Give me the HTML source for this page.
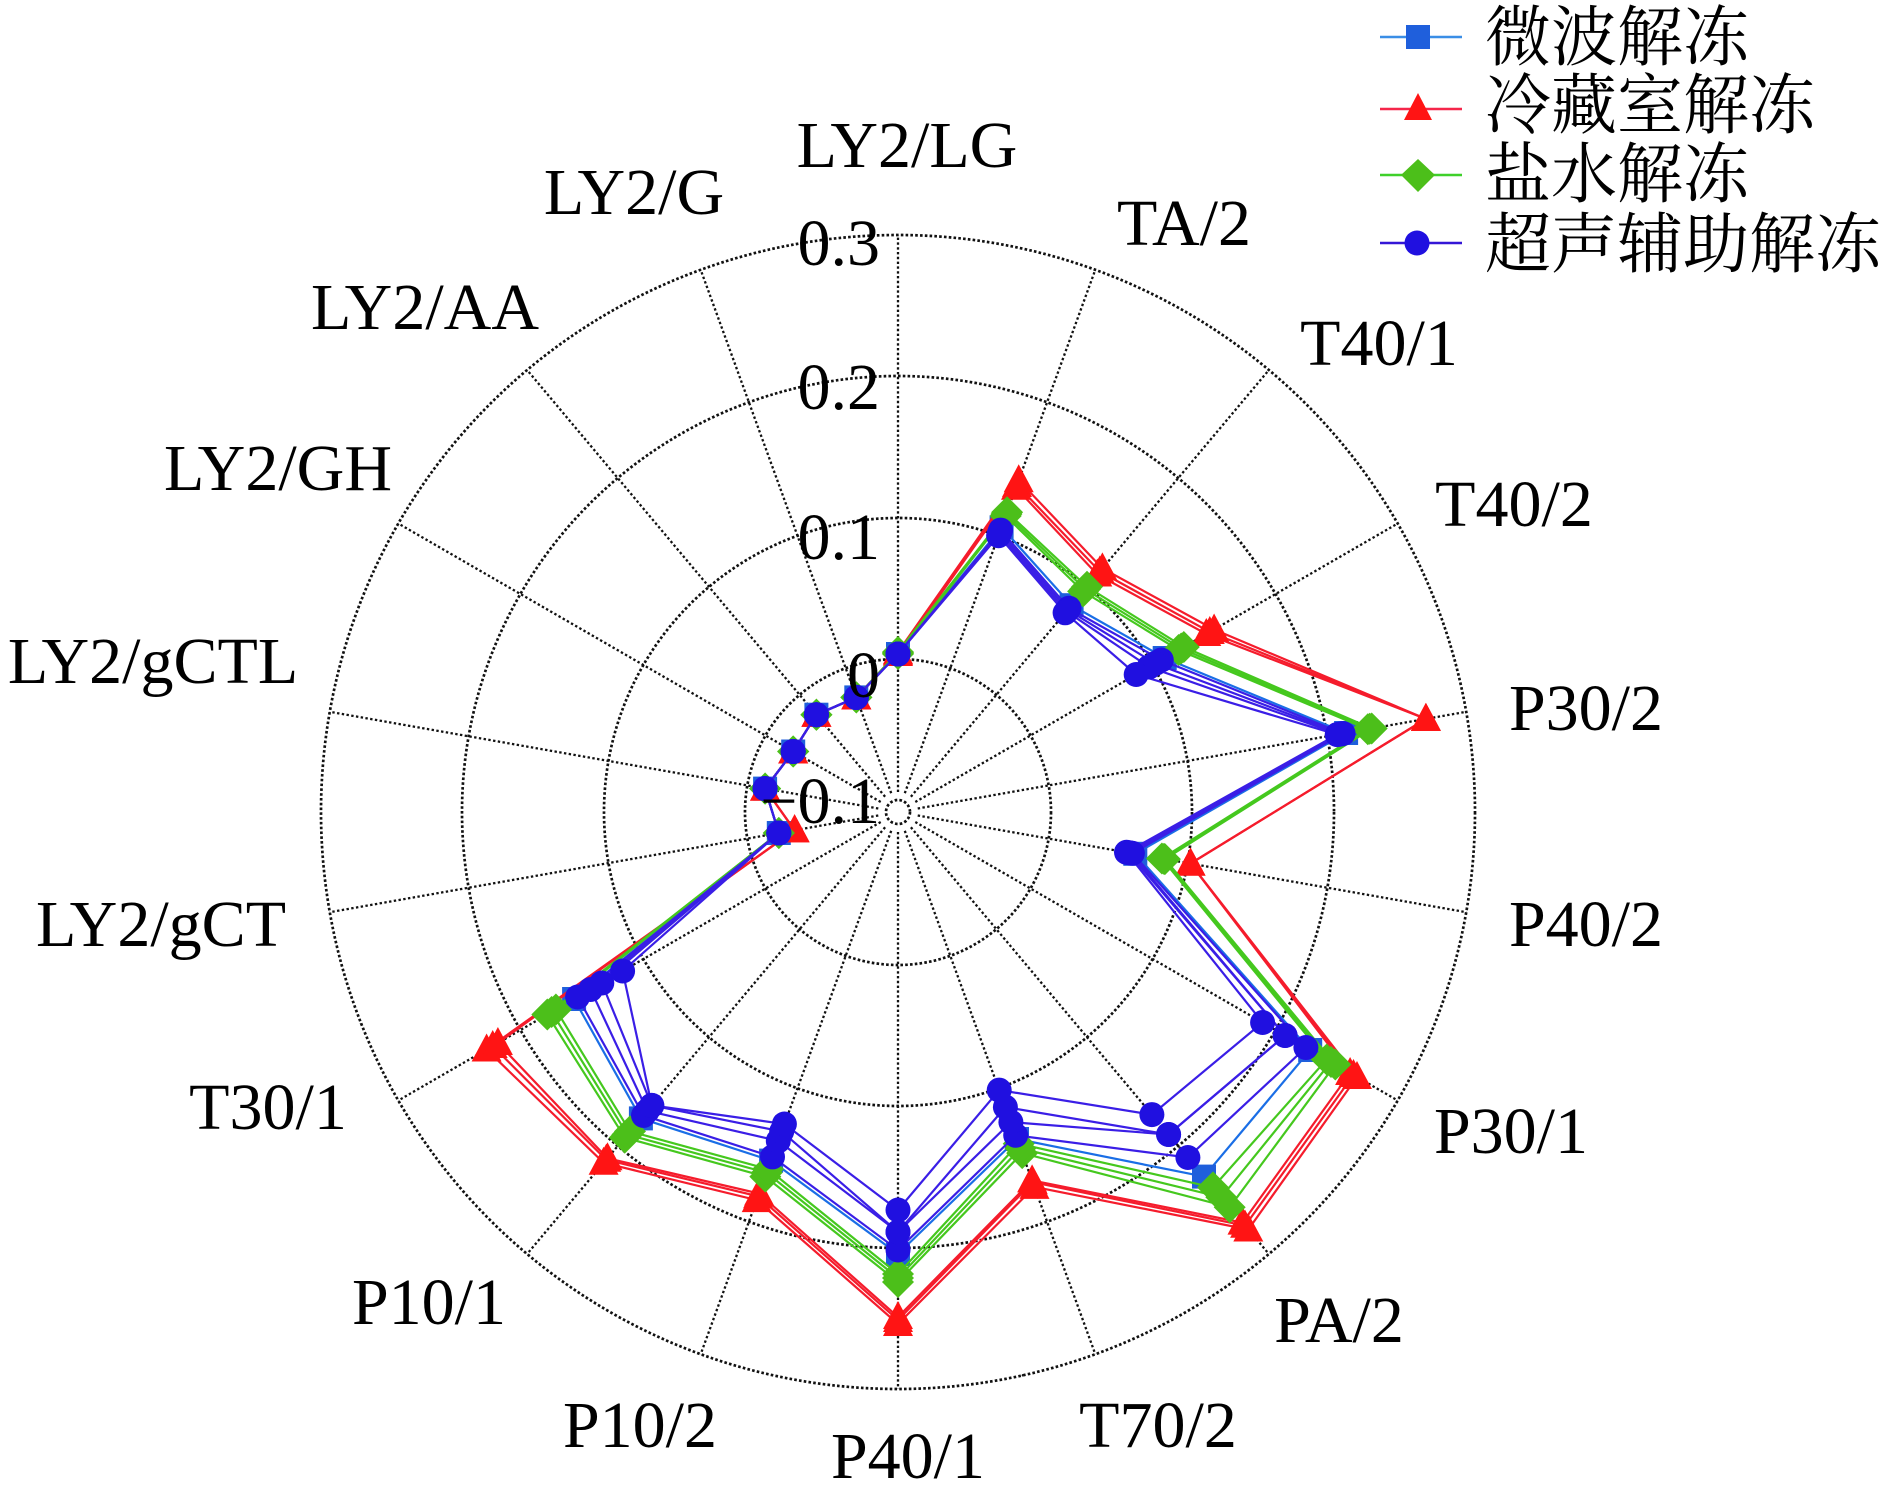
<!DOCTYPE html>
<html>
<head>
<meta charset="utf-8">
<style>
  html,body{margin:0;padding:0;background:#fff;}
  #wrap{position:relative;width:1890px;height:1499px;overflow:hidden;background:#fff;}
  #plot,#txt{position:absolute;left:0;top:0;}
  .cat{font-family:"Liberation Serif","Noto Serif CJK SC",serif;font-size:66px;fill:#000;text-anchor:middle;}
  .tick{font-family:"Liberation Serif","Noto Serif CJK SC",serif;font-size:66px;fill:#000;text-anchor:end;}
  .leg{font-family:"Liberation Serif","Noto Serif CJK SC","Noto Sans CJK SC",serif;font-size:66px;fill:#000;}
</style>
</head>
<body>
<div id="wrap">
  <div id="plot"></div>
  <svg id="txt" width="1890" height="1499" viewBox="0 0 1890 1499">
    <!-- category labels -->
    <text class="cat" x="907" y="167">LY2/LG</text>
    <text class="cat" x="1184" y="245">TA/2</text>
    <text class="cat" x="1379" y="365">T40/1</text>
    <text class="cat" x="1514" y="526">T40/2</text>
    <text class="cat" x="1586" y="730">P30/2</text>
    <text class="cat" x="1586" y="946">P40/2</text>
    <text class="cat" x="1511" y="1153">P30/1</text>
    <text class="cat" x="1339" y="1342">PA/2</text>
    <text class="cat" x="1158" y="1447">T70/2</text>
    <text class="cat" x="908" y="1478">P40/1</text>
    <text class="cat" x="640" y="1447">P10/2</text>
    <text class="cat" x="429" y="1324">P10/1</text>
    <text class="cat" x="268" y="1129">T30/1</text>
    <text class="cat" x="161" y="946">LY2/gCT</text>
    <text class="cat" x="153" y="683">LY2/gCTL</text>
    <text class="cat" x="278" y="490">LY2/GH</text>
    <text class="cat" x="425" y="329">LY2/AA</text>
    <text class="cat" x="634" y="214">LY2/G</text>
    <!-- radial tick labels -->
    <text class="tick" x="880" y="265">0.3</text>
    <text class="tick" x="880" y="409">0.2</text>
    <text class="tick" x="880" y="559">0.1</text>
    <text class="tick" x="880" y="697">0</text>
    <text class="tick" x="880" y="823">&#8722;0.1</text>
    <!-- legend -->
    <line x1="1380" y1="37" x2="1462" y2="37" stroke="#3a8ee6" stroke-width="2.5"/>
    <rect x="1406" y="25" width="24" height="24" fill="#1f5fdc"/>
    <text class="leg" x="1485" y="60">微波解冻</text>

    <line x1="1380" y1="109" x2="1462" y2="109" stroke="#f5264a" stroke-width="2.5"/>
    <polygon points="1418,93 1432,120 1404,120" fill="#ff1414"/>
    <text class="leg" x="1485" y="128">冷藏室解冻</text>

    <line x1="1380" y1="175" x2="1462" y2="175" stroke="#3fd02a" stroke-width="2.5"/>
    <polygon points="1418,159 1435,175 1418,192 1401,175" fill="#4cbf1a"/>
    <text class="leg" x="1485" y="197">盐水解冻</text>

    <line x1="1380" y1="243" x2="1462" y2="243" stroke="#3416d6" stroke-width="2.5"/>
    <circle cx="1417" cy="243" r="12.5" fill="#2010e0"/>
    <text class="leg" x="1485" y="267">超声辅助解冻</text>
  </svg>
</div>
<script>
(function(){
  var cx=898, cy=812;
  function P(i,r){var a=i*Math.PI/9;return [cx+r*Math.sin(a), cy-r*Math.cos(a)];}
  var s='<svg width="1890" height="1499" viewBox="0 0 1890 1499">';
  var rings=[12,153,294,436,577];
  var gs='stroke="#111" stroke-width="2.7" stroke-dasharray="2.6 2.2" fill="none"';
  rings.forEach(function(r){ s+='<circle cx="'+cx+'" cy="'+cy+'" r="'+r+'" '+gs+'/>'; });
  for(var i=0;i<18;i++){
    var a=P(i,20), b=P(i,577);
    s+='<line x1="'+a[0].toFixed(1)+'" y1="'+a[1].toFixed(1)+'" x2="'+b[0].toFixed(1)+'" y2="'+b[1].toFixed(1)+'" stroke="#111" stroke-width="2.3" stroke-dasharray="2.4 2.4"/>';
  }
  var tail=[121,135,121,127,122];
  var B1=[158,300,266,304,452,238,471,451,344,438,367,396,370].concat(tail);
  var B2=[158,298,264,297,450,236,447,421,330,420,350,390,355].concat(tail);
  var B3=[158,296,262,290,448,234,447,421,314,420,340,383,342].concat(tail);
  var B4=[158,294,260,275,446,232,421,395,296,398,332,383,318].concat(tail);
  var S1=[158,303,270,308,455,241,476,476,348,442,371,400,374].concat(tail);
  var R1=[160,353,318,365,536,297,530,545,399,512,413,458,475,105,135,121,127,122];
  var R2=[159,348,314,360,536,297,526,540,394,508,409,454,468,105,135,121,127,122];
  var R3=[158,345,310,356,536,297,522,536,392,505,406,452,462,105,135,121,127,122];
  var G1=[160,319,294,330,481,271,505,516,363,470,388,425,405].concat(tail);
  var G2=[159,317,291,327,479,270,500,503,358,466,384,421,400].concat(tail);
  var G3=[158,315,288,324,477,268,495,490,353,462,380,417,395].concat(tail);

  function poly(arr,col){
    var pts=arr.map(function(r,i){var p=P(i,r);return p[0].toFixed(1)+','+p[1].toFixed(1);}).join(' ');
    return '<polygon points="'+pts+'" fill="none" stroke="'+col+'" stroke-width="2.2" stroke-linejoin="miter"/>';
  }
  function markers(arr,type,col){
    var o='';
    arr.forEach(function(r,i){
      var p=P(i,r),x=p[0],y=p[1];
      if(type==='c') o+='<circle cx="'+x.toFixed(1)+'" cy="'+y.toFixed(1)+'" r="12.5" fill="'+col+'"/>';
      else if(type==='t') o+='<polygon points="'+x.toFixed(1)+','+(y-16).toFixed(1)+' '+(x+15).toFixed(1)+','+(y+12).toFixed(1)+' '+(x-15).toFixed(1)+','+(y+12).toFixed(1)+'" fill="'+col+'"/>';
      else if(type==='d') o+='<polygon points="'+x.toFixed(1)+','+(y-16).toFixed(1)+' '+(x+16).toFixed(1)+','+y.toFixed(1)+' '+x.toFixed(1)+','+(y+16).toFixed(1)+' '+(x-16).toFixed(1)+','+y.toFixed(1)+'" fill="'+col+'"/>';
      else if(type==='s') o+='<rect x="'+(x-12).toFixed(1)+'" y="'+(y-12).toFixed(1)+'" width="24" height="24" fill="'+col+'"/>';
    });
    return o;
  }
  s+=poly(S1,'#1a6ee6')+markers(S1,'s','#1f5fdc');
  [R1,R2,R3].forEach(function(a){s+=poly(a,'#f51c2c');});
  [R1,R2,R3].forEach(function(a){s+=markers(a,'t','#ff1414');});
  [G1,G2,G3].forEach(function(a){s+=poly(a,'#45c81e');});
  [G1,G2,G3].forEach(function(a){s+=markers(a,'d','#4cbf1a');});
  [B1,B2,B3,B4].forEach(function(a){s+=poly(a,'#3a1ee6');});
  [B1,B2,B3,B4].forEach(function(a){s+=markers(a,'c','#2010e0');});
  s+='</svg>';
  document.getElementById('plot').innerHTML=s;
})();
</script>
</body>
</html>
